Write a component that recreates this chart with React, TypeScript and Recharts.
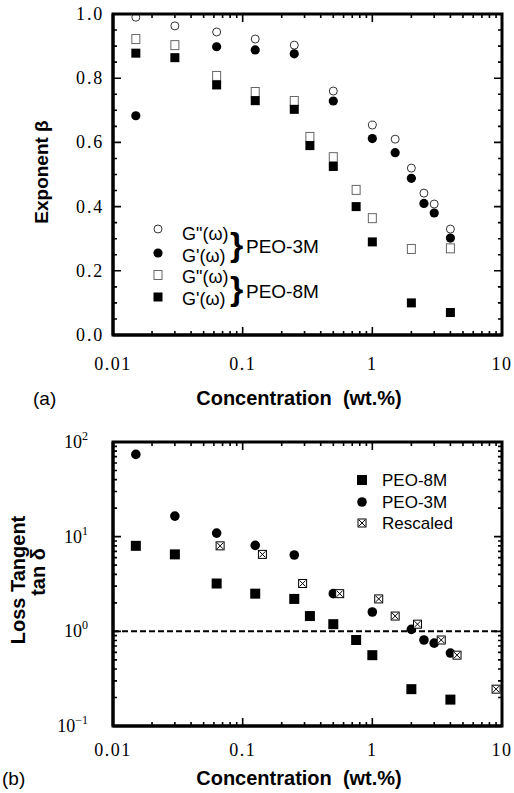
import React from 'react';
import { ScatterChart, Scatter, XAxis, YAxis, ReferenceLine, Legend } from 'recharts';

// ---------- axis ticks ----------
const xMajorTicks = [0.01, 0.1, 1, 10];
const xTickLabels = ['0.01', '0.1', '1', '10'];
const xAllTicks = [
  0.01, 0.02, 0.03, 0.04, 0.05, 0.06, 0.07, 0.08, 0.09,
  0.1, 0.2, 0.3, 0.4, 0.5, 0.6, 0.7, 0.8, 0.9,
  1, 2, 3, 4, 5, 6, 7, 8, 9, 10,
];
const betaTicks = [
  0, 0.05, 0.1, 0.15, 0.2, 0.25, 0.3, 0.35, 0.4, 0.45, 0.5,
  0.55, 0.6, 0.65, 0.7, 0.75, 0.8, 0.85, 0.9, 0.95, 1.0,
];
const betaTickLabels = ['0.0', '0.2', '0.4', '0.6', '0.8', '1.0'];
const tanTicks = [
  0.1, 0.2, 0.3, 0.4, 0.5, 0.6, 0.7, 0.8, 0.9,
  1, 2, 3, 4, 5, 6, 7, 8, 9,
  10, 20, 30, 40, 50, 60, 70, 80, 90, 100,
];
const tanTickExponents = ['\u22121', '0', '1', '2'];

// ---------- panel (a): exponent beta ----------
const conc3M_Gpp = [0.015, 0.03, 0.063, 0.125, 0.25, 0.5, 1, 1.5, 2, 2.5, 3, 4];
const beta3M_Gpp = [0.99, 0.963, 0.944, 0.922, 0.903, 0.76, 0.654, 0.61, 0.52, 0.442, 0.408, 0.33];
const conc3M_Gp = [0.015, 0.063, 0.125, 0.25, 0.5, 1, 1.5, 2, 2.5, 3, 4];
const beta3M_Gp = [0.683, 0.898, 0.888, 0.876, 0.729, 0.612, 0.568, 0.488, 0.41, 0.38, 0.302];
const conc8M = [0.015, 0.03, 0.063, 0.125, 0.25, 0.33, 0.5, 0.75, 1, 2, 4];
const beta8M_Gpp = [0.922, 0.903, 0.807, 0.757, 0.729, 0.617, 0.554, 0.452, 0.364, 0.268, 0.27];
const beta8M_Gp = [0.878, 0.864, 0.779, 0.73, 0.703, 0.59, 0.525, 0.4, 0.29, 0.1, 0.07];

// ---------- panel (b): loss tangent ----------
const tan8M = [8, 6.5, 3.2, 2.5, 2.2, 1.45, 1.19, 0.81, 0.56, 0.245, 0.19];
const conc3M_tan = [0.015, 0.03, 0.063, 0.125, 0.25, 0.5, 1, 2, 2.5, 3, 4];
const tan3M = [74, 16.5, 10.9, 8.1, 6.4, 2.5, 1.6, 1.05, 0.81, 0.75, 0.59];
const concRescaled = [0.067, 0.142, 0.29, 0.56, 1.12, 1.5, 2.23, 3.4, 4.5, 9];
const tanRescaled = [8, 6.5, 3.2, 2.5, 2.2, 1.45, 1.19, 0.81, 0.56, 0.245];

const pts = (xs: number[], ys: number[]) => xs.map((x, i) => ({ x, y: ys[i] }));

const SERIF = '"Liberation Serif", "Times New Roman", serif';
const SANS = '"Liberation Sans", Arial, Helvetica, sans-serif';
const FRAME = { stroke: '#000', strokeWidth: 3 };

const isMajorLog = (v: number) => Math.abs(Math.log10(v) - Math.round(Math.log10(v))) < 1e-6;
const isMajorBeta = (v: number) => Math.abs(v * 5 - Math.round(v * 5)) < 1e-6;

// plot boxes (page pixels) shared by the chart margins and the frame layer
const PLOT_L = 113, PLOT_R = 502;
const A_TOP = 14, A_BOT = 335;
const B_CHART_TOP = 428, B_TOP = 442, B_BOT = 726;
const PLOT_W = PLOT_R - PLOT_L;

// axis mappings matching the chart domains (x: log 0.01–10; a: linear 0–1; b: log 0.1–100)
const xPix = (v: number) => PLOT_L + ((Math.log10(v) + 2) / 3) * PLOT_W;
const yPixA = (v: number) => A_BOT - v * (A_BOT - A_TOP);
const yPixB = (v: number) => B_BOT - ((Math.log10(v) + 1) / 3) * (B_BOT - B_TOP);

// ---------- marker shapes ----------
const OpenCircle = (p: any) => (
  <circle cx={p.cx} cy={p.cy} r={4} fill="#fff" stroke="#333" strokeWidth={1} />
);
const FilledCircle = (p: any) => <circle cx={p.cx} cy={p.cy} r={4.6} fill="#000" />;
const BigCircle = (p: any) => <circle cx={p.cx} cy={p.cy} r={4.8} fill="#000" />;
const OpenSquare = (p: any) => (
  <rect x={p.cx - 4} y={p.cy - 4.5} width={8} height={9} fill="#fff" stroke="#666" strokeWidth={1} />
);
const FilledSquare = (p: any) => (
  <rect x={p.cx - 4.5} y={p.cy - 4.5} width={9} height={9} fill="#000" />
);
const BigSquare = (p: any) => (
  <rect x={p.cx - 5} y={p.cy - 5} width={10} height={10} fill="#000" />
);
const BoxX = (p: any) => (
  <g>
    <rect x={p.cx - 4} y={p.cy - 4} width={8} height={8} fill="#fff" stroke="#000" strokeWidth={1} />
    <path d={`M${p.cx - 3},${p.cy - 3}L${p.cx + 3},${p.cy + 3}M${p.cx + 3},${p.cy - 3}L${p.cx - 3},${p.cy + 3}`} stroke="#000" strokeWidth={1} fill="none" />
  </g>
);

// ---------- tick label renderers ----------
const XLabel = (labelDy: number) => (props: any) => {
  const { x, y, payload } = props;
  const idx = xMajorTicks.findIndex((t) => Math.abs(t - payload.value) < 1e-9);
  if (idx < 0) return <g />;
  return (
    <text x={x} y={y + labelDy} textAnchor="middle" fontFamily={SERIF} fontSize={18} letterSpacing={1.5} fill="#000">
      {xTickLabels[idx]}
    </text>
  );
};

const BetaLabel = (props: any) => {
  const { x, y, payload } = props;
  const v = payload.value;
  if (!isMajorBeta(v)) return <g />;
  return (
    <text x={x - 9} y={y + 6} textAnchor="end" fontFamily={SERIF} fontSize={18} letterSpacing={1.8} fill="#000">
      {betaTickLabels[Math.round(v * 5)]}
    </text>
  );
};

const TanLabel = (props: any) => {
  const { x, y, payload } = props;
  const v = payload.value;
  if (!isMajorLog(v)) return <g />;
  const e = Math.round(Math.log10(v)) + 1;
  return (
    <text x={x - 25} y={y + 6} textAnchor="end" fontFamily={SERIF} fontSize={18} fill="#000">
      10
      <tspan dy={-8} fontSize={12}>{tanTickExponents[e]}</tspan>
    </text>
  );
};

// ---------- frame + inward tick marks on all four sides ----------
function tickPath(top: number, bot: number, yMap: (v: number) => number, yTicks: number[], yMajor: (v: number) => boolean) {
  let d = '';
  xAllTicks.forEach((v) => {
    const x = xPix(v);
    const len = isMajorLog(v) ? 8 : 4;
    d += `M${x},${bot}V${bot - len}M${x},${top}V${top + len}`;
  });
  yTicks.forEach((v) => {
    const y = yMap(v);
    const len = yMajor(v) ? 8 : 4;
    d += `M${PLOT_L},${y}H${PLOT_L + len}M${PLOT_R},${y}H${PLOT_R - len}`;
  });
  return d;
}

// ---------- legends ----------
const LegendA = () => (
  <svg width={200} height={100} style={{ display: 'block', overflow: 'visible' }}>
    <OpenCircle cx={18} cy={14} />
    <FilledCircle cx={18} cy={38} />
    <OpenSquare cx={18} cy={60} />
    <FilledSquare cx={18} cy={82} />
    <g fontFamily={SANS} fontSize={18} fill="#000">
      <text x={42} y={25}>G"(ω)</text>
      <text x={42} y={47}>G'(ω)</text>
      <text x={42} y={68}>G"(ω)</text>
      <text x={42} y={90}>G'(ω)</text>
      <text x={90} y={41} fontSize={34} fontWeight="bold">{'}'}</text>
      <text x={90} y={85} fontSize={34} fontWeight="bold">{'}'}</text>
      <text x={106} y={38} fontSize={19}>PEO-3M</text>
      <text x={106} y={83} fontSize={19}>PEO-8M</text>
    </g>
  </svg>
);

const LegendB = () => (
  <svg width={140} height={70} style={{ display: 'block', overflow: 'visible' }}>
    <BigSquare cx={22} cy={12} />
    <BigCircle cx={22} cy={34} />
    <BoxX cx={22} cy={55} />
    <g fontFamily={SANS} fontSize={17} fill="#000">
      <text x={42} y={18}>PEO-8M</text>
      <text x={42} y={40}>PEO-3M</text>
      <text x={42} y={61}>Rescaled</text>
    </g>
  </svg>
);

export default function App() {
  return (
    <div style={{ position: 'absolute', left: 0, top: 0, width: 514, height: 793, background: '#fff' }}>
      {/* titles */}
      <svg width={514} height={793} style={{ position: 'absolute', left: 0, top: 0 }}>
        <g fontFamily={SANS} fill="#000">
          <text x={48} y={172} transform="rotate(-90 48 172)" textAnchor="middle" fontWeight="bold" fontSize={19}>
            Exponent β
          </text>
          <text x={299} y={405} textAnchor="middle" fontWeight="bold" fontSize={20} style={{ whiteSpace: 'pre' }}>
            {'Concentration  (wt.%)'}
          </text>
          <text x={33} y={405} fontSize={19}>(a)</text>
          <text x={25} y={580} transform="rotate(-90 25 580)" textAnchor="middle" fontWeight="bold" fontSize={20}>
            Loss Tangent
          </text>
          <text x={45} y={572} transform="rotate(-90 45 572)" textAnchor="middle" fontWeight="bold" fontSize={20}>
            tan δ
          </text>
          <text x={299} y={785} textAnchor="middle" fontWeight="bold" fontSize={20} style={{ whiteSpace: 'pre' }}>
            {'Concentration  (wt.%)'}
          </text>
          <text x={2} y={785} fontSize={19}>(b)</text>
        </g>
      </svg>

      {/* panel (a) */}
      <div style={{ position: 'absolute', left: 0, top: 0 }}>
        <ScatterChart width={514} height={400} margin={{ top: A_TOP, right: 514 - PLOT_R, bottom: 400 - A_BOT - 30, left: PLOT_L - 60 }}>
          <XAxis xAxisId="b" type="number" dataKey="x" scale="log" domain={[0.01, 10]} allowDataOverflow
            ticks={xAllTicks} interval={0} tickSize={0} tickMargin={0} tickLine={false} axisLine={FRAME}
            height={30} tick={XLabel(35)} />
          <YAxis yAxisId="l" type="number" dataKey="y" domain={[0, 1]} allowDataOverflow
            ticks={betaTicks} interval={0} tickSize={0} tickMargin={0} tickLine={false} axisLine={FRAME}
            width={60} tick={BetaLabel} />
          <Scatter name="G'' PEO-8M" xAxisId="b" yAxisId="l" data={pts(conc8M, beta8M_Gpp)} shape={OpenSquare} isAnimationActive={false} />
          <Scatter name="G' PEO-8M" xAxisId="b" yAxisId="l" data={pts(conc8M, beta8M_Gp)} shape={FilledSquare} isAnimationActive={false} />
          <Scatter name="G'' PEO-3M" xAxisId="b" yAxisId="l" data={pts(conc3M_Gpp, beta3M_Gpp)} shape={OpenCircle} isAnimationActive={false} />
          <Scatter name="G' PEO-3M" xAxisId="b" yAxisId="l" data={pts(conc3M_Gp, beta3M_Gp)} shape={FilledCircle} isAnimationActive={false} />
          <Legend layout="vertical" align="center" verticalAlign="middle" content={LegendA}
            wrapperStyle={{ left: 140, top: 215, width: 200, height: 100 }} />
        </ScatterChart>
      </div>

      {/* panel (b) */}
      <div style={{ position: 'absolute', left: 0, top: B_CHART_TOP }}>
        <ScatterChart width={514} height={365} margin={{ top: B_TOP - B_CHART_TOP, right: 514 - PLOT_R, bottom: B_CHART_TOP + 365 - B_BOT - 30, left: PLOT_L - 60 }}>
          <XAxis xAxisId="b" type="number" dataKey="x" scale="log" domain={[0.01, 10]} allowDataOverflow
            ticks={xAllTicks} interval={0} tickSize={0} tickMargin={0} tickLine={false} axisLine={FRAME}
            height={30} tick={XLabel(30)} />
          <YAxis yAxisId="l" type="number" dataKey="y" scale="log" domain={[0.1, 100]} allowDataOverflow
            ticks={tanTicks} interval={0} tickSize={0} tickMargin={0} tickLine={false} axisLine={FRAME}
            width={60} tick={TanLabel} />
          <ReferenceLine xAxisId="b" yAxisId="l" y={1} stroke="#000" strokeWidth={2} strokeDasharray="6 3" />
          <Scatter name="PEO-8M" xAxisId="b" yAxisId="l" data={pts(conc8M, tan8M)} shape={BigSquare} isAnimationActive={false} />
          <Scatter name="PEO-3M" xAxisId="b" yAxisId="l" data={pts(conc3M_tan, tan3M)} shape={BigCircle} isAnimationActive={false} />
          <Scatter name="Rescaled" xAxisId="b" yAxisId="l" data={pts(concRescaled, tanRescaled)} shape={BoxX} isAnimationActive={false} />
          <Legend layout="vertical" align="center" verticalAlign="middle" content={LegendB}
            wrapperStyle={{ left: 340, top: 40, width: 140, height: 70 }} />
        </ScatterChart>
      </div>

      {/* frames and inward tick marks, layered above the charts */}
      <svg width={514} height={793} style={{ position: 'absolute', left: 0, top: 0, pointerEvents: 'none' }}>
        <rect x={PLOT_L} y={A_TOP} width={PLOT_W} height={A_BOT - A_TOP} fill="none" stroke="#000" strokeWidth={3} />
        <rect x={PLOT_L} y={B_TOP} width={PLOT_W} height={B_BOT - B_TOP} fill="none" stroke="#000" strokeWidth={3} />
        <path d={tickPath(A_TOP, A_BOT, yPixA, betaTicks, isMajorBeta)} stroke="#000" strokeWidth={1.6} fill="none" />
        <path d={tickPath(B_TOP, B_BOT, yPixB, tanTicks, isMajorLog)} stroke="#000" strokeWidth={1.6} fill="none" />
      </svg>
    </div>
  );
}
